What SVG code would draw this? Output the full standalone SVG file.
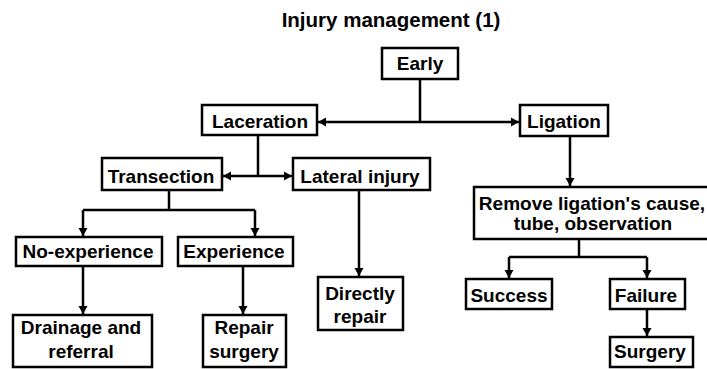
<svg xmlns="http://www.w3.org/2000/svg" width="707" height="369" viewBox="0 0 707 369">
<style>
.box{fill:#fff;stroke:#000;stroke-width:2.5}
.t{font-family:"Liberation Sans",Arial,sans-serif;font-size:19px;font-weight:bold;fill:#000;text-anchor:middle}
.c{fill:none;stroke:#000;stroke-width:2.5}
.a{marker-end:url(#ah)}
</style>
<defs>
<marker id="ah" markerUnits="userSpaceOnUse" markerWidth="10" markerHeight="10" refX="8" refY="5" orient="auto" viewBox="0 0 10 10">
<path d="M0,0.5 L8,5 L0,9.5 Z" fill="#000"/>
</marker>
</defs>
<rect width="707" height="369" fill="#fff"/>
<text class="t" x="391" y="27" style="font-size:20.5px">Injury management (1)</text>
<g id="connectors">
<path class="c" d="M420,79 V122"/>
<path class="c a" d="M420,122 H318"/>
<path class="c a" d="M420,122 H519"/>
<path class="c" d="M258,135 V176"/>
<path class="c a" d="M258,176 H223"/>
<path class="c a" d="M258,176 H292"/>
<path class="c" d="M169,190 V210 M83,210 H255"/>
<path class="c a" d="M83,210 V236"/>
<path class="c a" d="M255,210 V236"/>
<path class="c a" d="M83,266 V314"/>
<path class="c a" d="M243,266 V314"/>
<path class="c a" d="M359,190 V276"/>
<path class="c a" d="M570,136 V186"/>
<path class="c" d="M579,239 V257 M509,257 H647"/>
<path class="c a" d="M509,257 V278"/>
<path class="c a" d="M647,257 V278"/>
<path class="c a" d="M647,309 V336"/>
</g>
<g id="early"><rect class="box" x="382" y="48" width="76" height="31"/><text class="t" x="420" y="70">Early</text></g>
<g id="laceration"><rect class="box" x="202" y="105" width="115" height="30"/><text class="t" x="260" y="128">Laceration</text></g>
<g id="ligation"><rect class="box" x="520" y="105" width="88" height="31"/><text class="t" x="564" y="128">Ligation</text></g>
<g id="transection"><rect class="box" x="102" y="158" width="120" height="32"/><text class="t" x="161" y="183">Transection</text></g>
<g id="lateral"><rect class="box" x="293" y="158" width="137" height="32"/><text class="t" x="360" y="183">Lateral injury</text></g>
<g id="remove"><rect class="box" x="474" y="187" width="238" height="52"/><text class="t" x="592" y="210">Remove ligation's cause,</text><text class="t" x="593" y="230">tube, observation</text></g>
<g id="noexp"><rect class="box" x="16" y="237" width="146" height="29"/><text class="t" x="88" y="258">No-experience</text></g>
<g id="exp"><rect class="box" x="178" y="237" width="115" height="29"/><text class="t" x="234" y="258">Experience</text></g>
<g id="directly"><rect class="box" x="318" y="277" width="85" height="53"/><text class="t" x="360" y="300">Directly</text><text class="t" x="360" y="323">repair</text></g>
<g id="success"><rect class="box" x="466" y="279" width="86" height="30"/><text class="t" x="509" y="302">Success</text></g>
<g id="failure"><rect class="box" x="610" y="279" width="75" height="30"/><text class="t" x="646" y="302">Failure</text></g>
<g id="drainage"><rect class="box" x="13" y="315" width="139" height="52"/><text class="t" x="81" y="334">Drainage and</text><text class="t" x="81" y="358">referral</text></g>
<g id="repair"><rect class="box" x="203" y="315" width="83" height="52"/><text class="t" x="244" y="334">Repair</text><text class="t" x="244" y="358">surgery</text></g>
<g id="surgery"><rect class="box" x="610" y="337" width="83" height="30"/><text class="t" x="650" y="358">Surgery</text></g>
</svg>
